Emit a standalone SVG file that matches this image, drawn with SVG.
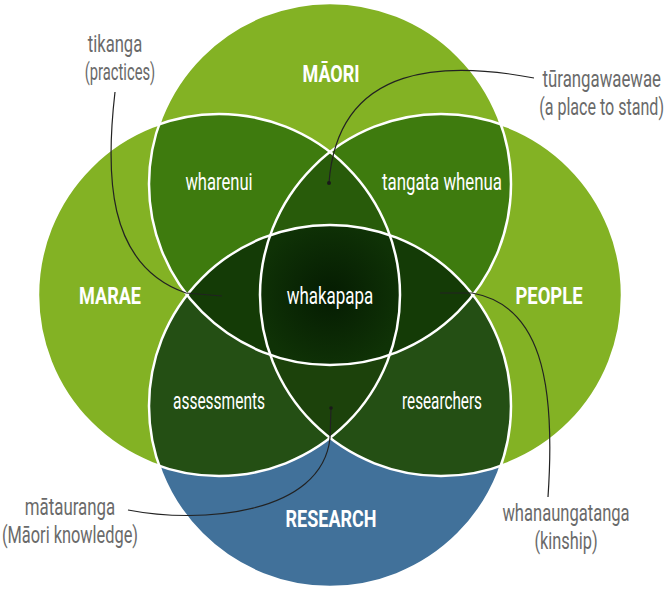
<svg xmlns="http://www.w3.org/2000/svg" width="669" height="589" viewBox="0 0 669 589">
  <defs>
    <clipPath id="clipT"><circle cx="330" cy="184" r="181"/></clipPath>
    <clipPath id="clipL"><circle cx="219" cy="295" r="181"/></clipPath>
    <clipPath id="clipR"><circle cx="441" cy="295" r="181"/></clipPath>
    <clipPath id="clipB"><circle cx="330" cy="406" r="181"/></clipPath>
    <radialGradient id="gCore" cx="330" cy="295" r="75" gradientUnits="userSpaceOnUse">
      <stop offset="0" stop-color="#051c02"/>
      <stop offset="1" stop-color="#0f3206"/>
    </radialGradient>
    <style>
      .outline { fill: none; stroke: #ffffff; stroke-width: 2.5; }
      .lbl { font-family: Roboto, "Liberation Sans", sans-serif; font-size: 24px; fill: #ffffff; text-anchor: middle; }
      .cat { font-family: Roboto, "Liberation Sans", sans-serif; font-size: 23px; font-weight: bold; fill: #ffffff; text-anchor: middle; }
      .note { font-family: Roboto, "Liberation Sans", sans-serif; font-size: 24px; fill: #6a6a6a; text-anchor: middle; }
      .noteR { font-family: Roboto, "Liberation Sans", sans-serif; font-size: 24px; fill: #6a6a6a; text-anchor: end; }
      .conn { fill: none; stroke: #222222; stroke-width: 1.2; }
    </style>
  </defs>

  <g id="circles">
    <g id="maori"><circle cx="330" cy="184" r="181" fill="#83b224"/></g>
    <g id="marae"><circle cx="219" cy="295" r="181" fill="#83b224"/></g>
    <g id="people"><circle cx="441" cy="295" r="181" fill="#83b224"/></g>
    <g id="research"><circle cx="330" cy="406" r="181" fill="#41719a"/></g>
  </g>

  <g id="overlaps">
    <g id="wharenui-region" clip-path="url(#clipL)"><circle cx="330" cy="184" r="181" fill="#3e7b0e"/></g>
    <g id="tangata-region" clip-path="url(#clipR)"><circle cx="330" cy="184" r="181" fill="#3e7b0e"/></g>
    <g id="assess-region" clip-path="url(#clipL)"><circle cx="330" cy="406" r="181" fill="#244f14"/></g>
    <g id="research-region" clip-path="url(#clipR)"><circle cx="330" cy="406" r="181" fill="#244f14"/></g>
    <g clip-path="url(#clipL)"><g clip-path="url(#clipR)"><circle cx="330" cy="184" r="181" fill="#285b0a"/></g></g>
    <g clip-path="url(#clipL)"><g clip-path="url(#clipR)"><circle cx="330" cy="406" r="181" fill="#1c420b"/></g></g>
    <g clip-path="url(#clipT)"><g clip-path="url(#clipB)"><circle cx="219" cy="295" r="181" fill="#143b06"/></g></g>
    <g clip-path="url(#clipT)"><g clip-path="url(#clipB)"><circle cx="441" cy="295" r="181" fill="#143b06"/></g></g>
    <g id="whakapapa-region" clip-path="url(#clipT)"><g clip-path="url(#clipB)"><g clip-path="url(#clipL)"><circle cx="441" cy="295" r="181" fill="url(#gCore)"/></g></g></g>
  </g>

  <g id="outlines">
    <circle class="outline" cx="330" cy="184" r="181"/>
    <circle class="outline" cx="219" cy="295" r="181"/>
    <circle class="outline" cx="441" cy="295" r="181"/>
    <circle class="outline" cx="330" cy="406" r="181"/>
  </g>

  <g id="connectors">
    <path class="conn" d="M115,92 C106,170 105,265 186,293 L222,296"/>
    <path class="conn" d="M534,78 C450,62 338,60 329,183"/>
    <circle cx="329" cy="183" r="2" fill="#1a1a1a"/>
    <path class="conn" d="M128,510 C200,524 322,515 330,438 L331,408"/>
    <circle cx="331" cy="408" r="1.8" fill="#1a1a1a"/>
    <path class="conn" d="M440,293 L472,293 C540,305 556,380 548,497"/>
  </g>

  <g id="labels">
    <text class="cat" transform="translate(331,82) scale(0.85,1)" textLength="67" lengthAdjust="spacingAndGlyphs">MĀORI</text>
    <text class="cat" transform="translate(110,304) scale(0.85,1)" textLength="73" lengthAdjust="spacingAndGlyphs">MARAE</text>
    <text class="cat" transform="translate(549,304) scale(0.85,1)" textLength="79" lengthAdjust="spacingAndGlyphs">PEOPLE</text>
    <text class="cat" transform="translate(331,527) scale(0.85,1)" textLength="107" lengthAdjust="spacingAndGlyphs">RESEARCH</text>

    <text class="lbl" transform="translate(219,190) scale(0.8,1)" textLength="84" lengthAdjust="spacingAndGlyphs">wharenui</text>
    <text class="lbl" transform="translate(442,190) scale(0.8,1)" textLength="150" lengthAdjust="spacingAndGlyphs">tangata whenua</text>
    <text class="lbl" transform="translate(330,304) scale(0.8,1)" textLength="108" lengthAdjust="spacingAndGlyphs">whakapapa</text>
    <text class="lbl" transform="translate(219,409) scale(0.8,1)" textLength="115" lengthAdjust="spacingAndGlyphs">assessments</text>
    <text class="lbl" transform="translate(442,409) scale(0.8,1)" textLength="100" lengthAdjust="spacingAndGlyphs">researchers</text>

    <text class="note" transform="translate(115,52) scale(0.8,1)" textLength="68" lengthAdjust="spacingAndGlyphs">tikanga</text>
    <text class="note" transform="translate(120,80) scale(0.8,1)" textLength="88" lengthAdjust="spacingAndGlyphs">(practices)</text>
    <text class="noteR" transform="translate(661,87) scale(0.8,1)" textLength="148" lengthAdjust="spacingAndGlyphs">tūrangawaewae</text>
    <text class="noteR" transform="translate(664,115) scale(0.8,1)" textLength="156" lengthAdjust="spacingAndGlyphs">(a place to stand)</text>
    <text class="note" transform="translate(70,515) scale(0.8,1)" textLength="113" lengthAdjust="spacingAndGlyphs">mātauranga</text>
    <text class="note" transform="translate(70,543) scale(0.8,1)" textLength="170" lengthAdjust="spacingAndGlyphs">(Māori knowledge)</text>
    <text class="note" transform="translate(566,521) scale(0.8,1)" textLength="159" lengthAdjust="spacingAndGlyphs">whanaungatanga</text>
    <text class="note" transform="translate(566,549) scale(0.8,1)" textLength="79" lengthAdjust="spacingAndGlyphs">(kinship)</text>
  </g>
</svg>
